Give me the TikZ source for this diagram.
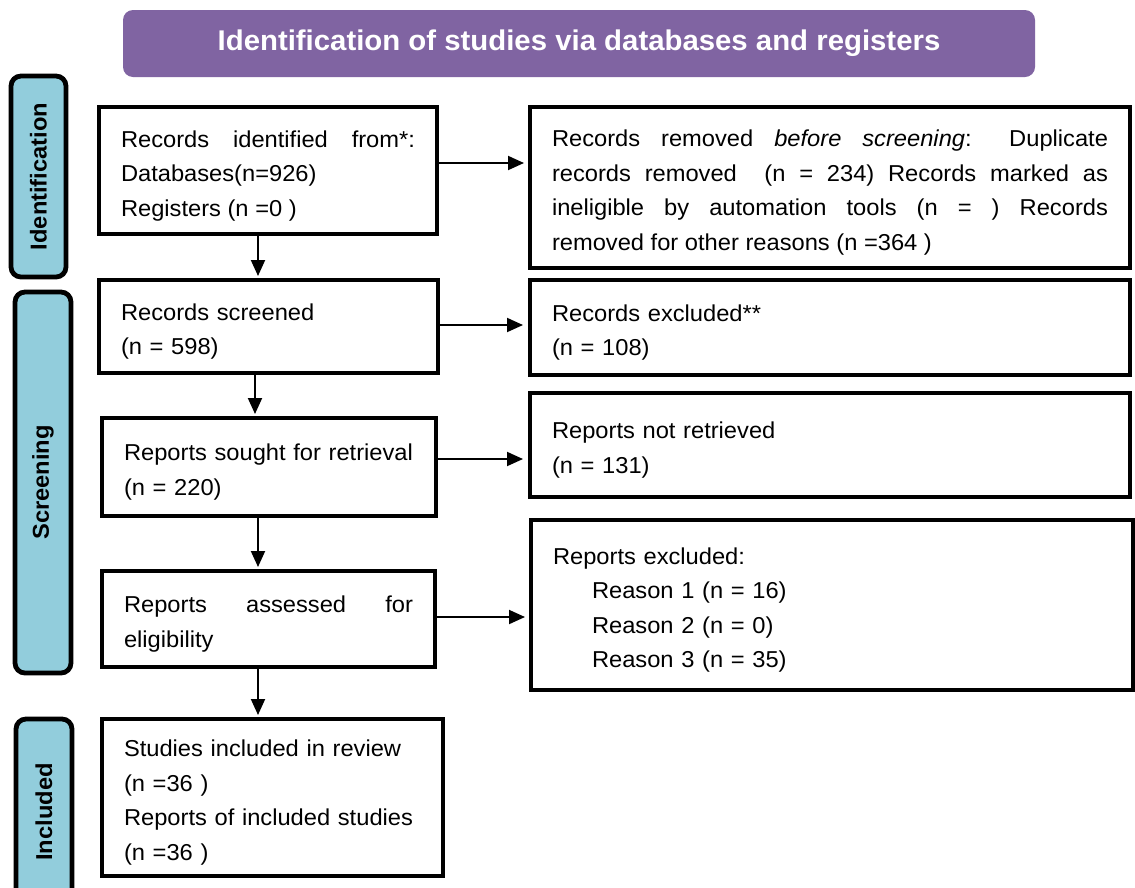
\documentclass[tikz,border=0pt]{standalone}
\usepackage{fontspec}
\setmainfont[FakeStretch=1.03]{Liberation Sans}
\usetikzlibrary{arrows.meta}
\definecolor{hdr}{HTML}{8064A2}
\definecolor{side}{HTML}{92CDDC}
\newcommand{\topfix}{\rule{0pt}{27pt}}
\begin{document}
\begin{tikzpicture}[x=1pt,y=1pt,
 box/.style={draw, line width=4pt, fill=white, inner xsep=22pt, inner ysep=0pt,
   font=\fontsize{23}{34.5}\selectfont, align=justify},
 sidebox/.style={draw, line width=4.8pt, fill=side, rounded corners=10pt, inner sep=0pt,
   rotate=90, font=\bfseries\fontsize{23}{26}\selectfont},
 arr/.style={line width=1.9pt, -{Triangle[length=16pt,width=14pt]}, shorten >=2pt}]
\useasboundingbox (0,0) rectangle (1135,-887);
\fill[white] (0,0) rectangle (1135,-887);

% header
\node[fill=hdr, rounded corners=10pt, minimum width=912pt, minimum height=67pt,
  text=white, font=\bfseries\fontsize{28.5}{30}\selectfont] (hd) at (579,-43.5)
  {Identification of studies via databases and registers};

% side labels
\node[sidebox, minimum width=201pt, minimum height=55pt] (sid) at (38.5,-176.5) {Identification};
\node[sidebox, minimum width=381pt, minimum height=56pt] (ssc) at (43,-482.5) {Screening};
\node[sidebox, minimum width=186pt, minimum height=56pt] (sin) at (44,-812) {Included};

% left column
\node[box, minimum width=338pt, minimum height=127pt, text width=294pt] (b1) at (268,-170.5)
  {\topfix Records identified from*:\linebreak Databases(n=926)\\ Registers (n =0 )};
\node[box, minimum width=339pt, minimum height=93pt, text width=295pt, align=left] (b2) at (268.5,-326.5)
  {\topfix Records screened\\ (n = 598)};
\node[box, minimum width=334pt, minimum height=98pt, text width=290pt, align=left] (b3) at (269,-467)
  {\topfix Reports sought for retrieval\\ (n = 220)};
\node[box, minimum width=333pt, minimum height=96pt, text width=289pt] (b4) at (268.5,-619)
  {\topfix Reports assessed for\linebreak eligibility};
\node[box, minimum width=341pt, minimum height=157pt, text width=297pt, align=left] (b5) at (272.5,-797.5)
  {\topfix Studies included in review\\ (n =36 )\\ Reports of included studies\\ (n =36 )};

% right column
\node[box, minimum width=600pt, minimum height=161pt, text width=556pt] (r1) at (830,-187.5)
  {\topfix Records removed \textit{before screening}: Duplicate\linebreak
   records removed\ \ (n = 234) Records marked as\linebreak
   ineligible by automation tools (n = ) Records\linebreak
   removed for other reasons (n =364 )};
\node[box, minimum width=600pt, minimum height=95pt, text width=556pt, align=left] (r2) at (830,-327.5)
  {\topfix Records excluded**\\ (n = 108)};
\node[box, minimum width=600pt, minimum height=104pt, text width=556pt, align=left] (r3) at (830,-445)
  {\topfix Reports not retrieved\\ (n = 131)};
\node[box, minimum width=602pt, minimum height=170pt, text width=558pt, align=left] (r4) at (832,-605)
  {\topfix Reports excluded:\\ \hspace*{39pt}Reason 1 (n = 16)\\ \hspace*{39pt}Reason 2 (n = 0)\\ \hspace*{39pt}Reason 3 (n = 35)};

% helper coordinates
\coordinate (xa) at (258,0);
\coordinate (xb) at (255,0);
\coordinate (ya) at (0,-163);
\coordinate (yb) at (0,-325);
\coordinate (yc) at (0,-459);
\coordinate (yd) at (0,-617);

% vertical arrows
\draw[arr] (b1.south -| xa) -- (b2.north -| xa);
\draw[arr] (b2.south -| xb) -- (b3.north -| xb);
\draw[arr] (b3.south -| xa) -- (b4.north -| xa);
\draw[arr] (b4.south -| xa) -- (b5.north -| xa);

% horizontal arrows
\draw[arr, shorten >=4pt] (b1.east |- ya) -- (r1.west |- ya);
\draw[arr, shorten >=5pt] (b2.east |- yb) -- (r2.west |- yb);
\draw[arr, shorten >=5pt] (b3.east |- yc) -- (r3.west |- yc);
\draw[arr, shorten >=4pt] (b4.east |- yd) -- (r4.west |- yd);
\end{tikzpicture}
\end{document}
